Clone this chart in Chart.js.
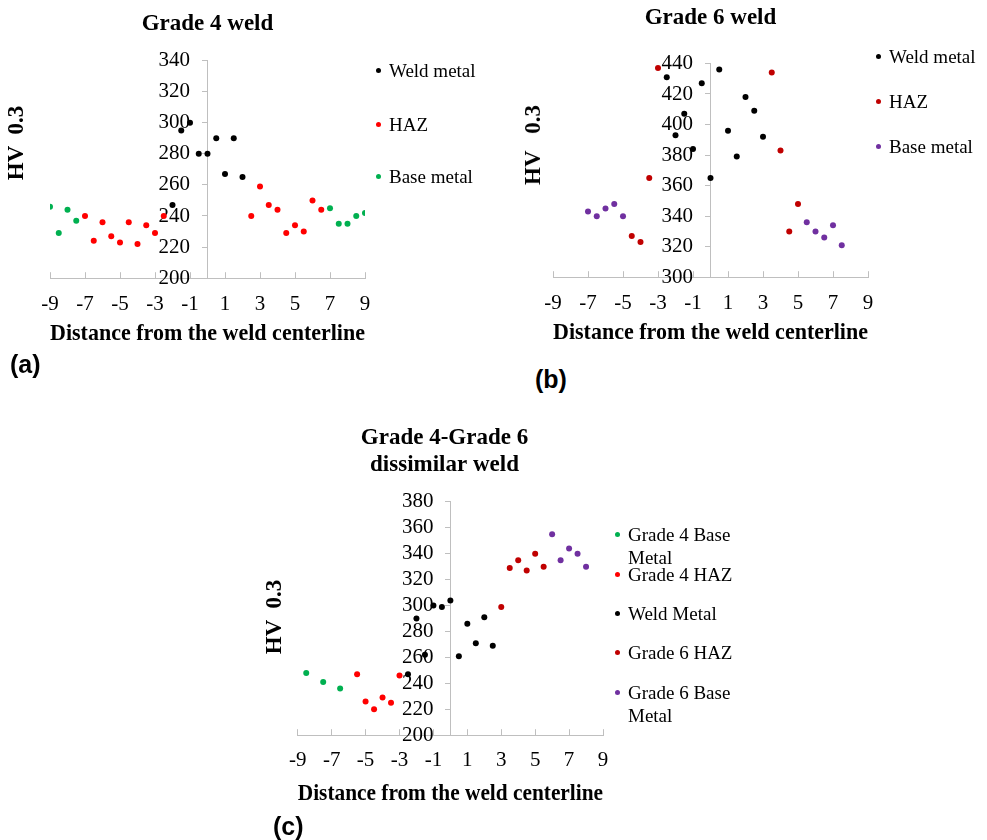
<!DOCTYPE html>
<html>
<head>
<meta charset="utf-8">
<script src="https://cdn.jsdelivr.net/npm/chart.js@4.4.0/dist/chart.umd.min.js"></script>
<style>
  body { margin:0; background:#fff; width:987px; height:840px; overflow:hidden; position:relative; font-family:"Liberation Serif", "Times New Roman", serif; }
  canvas { position:absolute; }
  .ytitle { position:absolute; font-weight:bold; font-size:23px; white-space:pre; transform:translate(-50%,-50%) rotate(-90deg); }
  .item { position:absolute; font-size:19px; line-height:23px; white-space:pre; padding-left:13px; }
  .dot { position:absolute; left:0; top:9px; width:5px; height:5px; border-radius:50%; }
  .panel { position:absolute; font-family:"Liberation Sans", Arial, sans-serif; font-weight:bold; font-size:25px; line-height:30px; }
</style>
</head>
<body>
<canvas id="chart-a" width="427" height="350" style="left:0px;top:0px"></canvas>
<canvas id="chart-b" width="400" height="350" style="left:520px;top:0px"></canvas>
<canvas id="chart-c" width="380" height="400" style="left:270px;top:410px"></canvas>

<div class="ytitle" style="left:16px;top:143px">HV  0.3</div>
<div class="ytitle" style="left:533px;top:145px">HV   0.3</div>
<div class="ytitle" style="left:274px;top:617px">HV  0.3</div>

<div class="panel" style="left:10px;top:349px">(a)</div>
<div class="panel" style="left:535px;top:364px">(b)</div>
<div class="panel" style="left:273px;top:811px">(c)</div>

<div id="legend-a"></div>
<div id="legend-b"></div>
<div id="legend-c"></div>

<script>
// shared axis ticks
const xTicks = [-9, -7, -5, -3, -1, 1, 3, 5, 7, 9];

// (a) Grade 4 weld ------
const yTicksA = [200, 220, 240, 260, 280, 300, 320, 340];
const weldAx = [-2, -1.5, -1, -0.5, 0, 0.5, 1, 1.5, 2];
const weldAy = [247, 295, 300, 280, 280, 290, 267, 290, 265];
const hazAx = [-7, -6.5, -6, -5.5, -5, -4.5, -4, -3.5, -3, -2.5, 2.5, 3, 3.5, 4, 4.5, 5, 5.5, 6, 6.5];
const hazAy = [240, 224, 236, 227, 223, 236, 222, 234, 229, 240, 240, 259, 247, 244, 229, 234, 230, 250, 244];
const baseAx = [-9, -8.5, -8, -7.5, 7, 7.5, 8, 8.5, 9];
const baseAy = [246, 229, 244, 237, 245, 235, 235, 240, 242];

// (b) Grade 6 weld ------
const yTicksB = [300, 320, 340, 360, 380, 400, 420, 440];
const weldBx = [-2.5, -2, -1.5, -1, -0.5, 0, 0.5, 1, 1.5, 2, 2.5, 3];
const weldBy = [431, 393, 407, 384, 427, 365, 436, 396, 379, 418, 409, 392];
const hazBx = [-4.5, -4, -3.5, -3, 3.5, 4, 4.5, 5];
const hazBy = [327, 323, 365, 437, 434, 383, 330, 348];
const baseBx = [-7, -6.5, -6, -5.5, -5, 5.5, 6, 6.5, 7, 7.5];
const baseBy = [343, 340, 345, 348, 340, 336, 330, 326, 334, 321];

// (c) Grade 4-Grade 6 dissimilar weld ------
const yTicksC = [200, 220, 240, 260, 280, 300, 320, 340, 360, 380];
const g4BaseX = [-8.5, -7.5, -6.5];
const g4BaseY = [248, 241, 236];
const g4HazX = [-5.5, -5, -4.5, -4, -3.5, -3];
const g4HazY = [247, 226, 220, 229, 225, 246];
const weldCx = [-2.5, -2, -1.5, -1, -0.5, 0, 0.5, 1, 1.5, 2, 2.5];
const weldCy = [247, 290, 262, 300, 299, 304, 261, 286, 271, 291, 269];
const g6HazX = [3, 3.5, 4, 4.5, 5, 5.5];
const g6HazY = [299, 329, 335, 327, 340, 330];
const g6BaseX = [6, 6.5, 7, 7.5, 8];
const g6BaseY = [355, 335, 344, 340, 330];

const serif = '"Liberation Serif", "Times New Roman", serif';
const axisGrey = '#bfbfbf';

function pts(xs, ys) {
  return xs.map(function (x, i) { return {x: x, y: ys[i]}; });
}

function fixedTicks(list) {
  return function (sc) { sc.ticks = list.map(function (v) { return {value: v}; }); };
}

function makeChart(id, title, series, yTicks, pad, titlePad, xPad) {
  return new Chart(document.getElementById(id), {
    type: 'scatter',
    data: {
      datasets: series.map(function (s) {
        return {
          label: s.label,
          data: s.data,
          yAxisID: 'y',
          backgroundColor: s.color,
          borderColor: s.color,
          borderWidth: 0,
          pointRadius: 3,
          pointHoverRadius: 3
        };
      })
    },
    options: {
      responsive: false,
      animation: false,
      events: [],
      layout: { padding: pad },
      plugins: {
        legend: { display: false },
        tooltip: { enabled: false },
        title: {
          display: true,
          text: title,
          color: '#000',
          font: { family: serif, size: 23, weight: 'bold', lineHeight: 1.15 },
          padding: titlePad
        }
      },
      scales: {
        x: {
          type: 'linear',
          position: 'bottom',
          min: xTicks[0],
          max: xTicks[xTicks.length - 1],
          afterBuildTicks: fixedTicks(xTicks),
          grid: { display: true, drawOnChartArea: false, drawTicks: true, tickLength: -6, color: axisGrey },
          border: { display: true, color: axisGrey },
          ticks: { color: '#000', font: { family: serif, size: 21 }, padding: xPad.tick, maxRotation: 0, autoSkip: false },
          title: {
            display: true,
            text: 'Distance from the weld centerline',
            color: '#000',
            font: { family: serif, size: 23, weight: 'bold' },
            padding: { top: xPad.title, bottom: 0 }
          }
        },
        // axis line through x = 0
        y: {
          type: 'linear',
          position: { x: 0 },
          min: yTicks[0],
          max: yTicks[yTicks.length - 1],
          afterBuildTicks: fixedTicks(yTicks),
          grid: { display: true, drawOnChartArea: false, drawTicks: true, tickLength: 5, color: axisGrey },
          border: { display: true, color: axisGrey },
          ticks: { display: false }
        },
        // labels of the y axis, set a little left of the line
        yLab: {
          type: 'linear',
          position: { x: -1 },
          min: yTicks[0],
          max: yTicks[yTicks.length - 1],
          afterBuildTicks: fixedTicks(yTicks),
          grid: { display: false },
          border: { display: false },
          ticks: { color: '#000', font: { family: serif, size: 21 }, autoSkip: false }
        }
      }
    }
  });
}

// legends drawn as html text next to each chart
function makeLegend(id, series, left, tops) {
  const box = document.getElementById(id);
  series.forEach(function (s, i) {
    const item = document.createElement('div');
    item.className = 'item';
    item.style.left = left + 'px';
    item.style.top = tops[i] + 'px';
    item.textContent = s.label;
    const dot = document.createElement('span');
    dot.className = 'dot';
    dot.style.background = s.color;
    item.appendChild(dot);
    box.appendChild(item);
  });
}

const seriesA = [
  { label: 'Weld metal', color: '#000000', data: pts(weldAx, weldAy) },
  { label: 'HAZ', color: '#ff0000', data: pts(hazAx, hazAy) },
  { label: 'Base metal', color: '#00b050', data: pts(baseAx, baseAy) }
];
const seriesB = [
  { label: 'Weld metal', color: '#000000', data: pts(weldBx, weldBy) },
  { label: 'HAZ', color: '#c00000', data: pts(hazBx, hazBy) },
  { label: 'Base metal', color: '#7030a0', data: pts(baseBx, baseBy) }
];
const seriesC = [
  { label: 'Grade 4 Base\nMetal', color: '#00b050', data: pts(g4BaseX, g4BaseY) },
  { label: 'Grade 4 HAZ', color: '#ff0000', data: pts(g4HazX, g4HazY) },
  { label: 'Weld Metal', color: '#000000', data: pts(weldCx, weldCy) },
  { label: 'Grade 6 HAZ', color: '#c00000', data: pts(g6HazX, g6HazY) },
  { label: 'Grade 6 Base\nMetal', color: '#7030a0', data: pts(g6BaseX, g6BaseY) }
];

makeChart('chart-a', 'Grade 4 weld', seriesA, yTicksA,
  { left: 50, right: 62, top: 0, bottom: 2 }, { top: 11, bottom: 23 }, { tick: 20, title: -17 });
makeChart('chart-b', 'Grade 6 weld', seriesB, yTicksB,
  { left: 33, right: 52, top: 0, bottom: 3 }, { top: 5, bottom: 32 }, { tick: 20, title: -17 });
makeChart('chart-c', ['Grade 4-Grade 6', 'dissimilar weld'], seriesC, yTicksC,
  { left: 16, right: 47, top: 0, bottom: 2 }, { top: 15, bottom: 24 }, { tick: 19, title: -12 });

makeLegend('legend-a', seriesA, 376, [59, 113, 165]);
makeLegend('legend-b', seriesB, 876, [45, 90, 135]);
makeLegend('legend-c', seriesC, 615, [523, 563, 602, 641, 681]);
</script>
</body>
</html>
